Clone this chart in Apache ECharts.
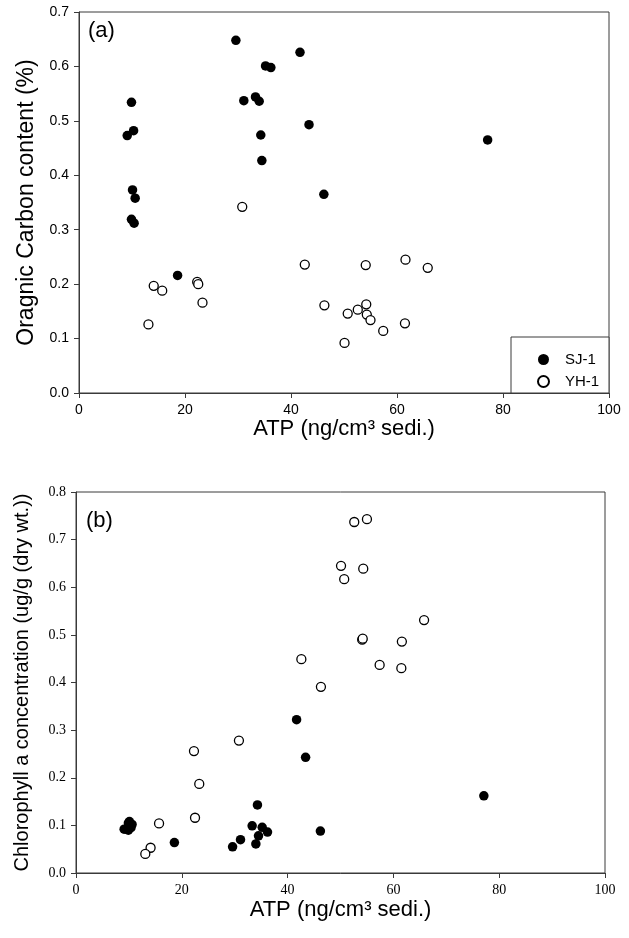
<!DOCTYPE html>
<html>
<head>
<meta charset="utf-8">
<script src="https://cdn.jsdelivr.net/npm/echarts@6/dist/echarts.min.js"></script>
<style>html,body{margin:0;padding:0;background:#fff;}#c{width:629px;height:938px;}</style>
</head>
<body>
<div id="c"></div>
<script>
// ---- Data ----
const seriesNames = ['SJ-1', 'YH-1'];
const xTicks = [0, 20, 40, 60, 80, 100];
// SJ-1 samples
const sj1ATP = [29.6, 41.7, 35.2, 36.2, 9.9, 31.1, 33.3, 34.0, 10.3, 9.1, 34.3, 43.4, 34.5, 46.2, 10.1, 10.6, 9.9, 10.4, 18.6, 77.1];
const sj1OC  = [0.648, 0.626, 0.601, 0.598, 0.534, 0.537, 0.544, 0.536, 0.482, 0.473, 0.474, 0.493, 0.427, 0.365, 0.373, 0.358, 0.319, 0.312, 0.216, 0.465];
const sj1Chl = [0.055, 0.322, 0.096, 0.086, 0.105, 0.070, 0.099, 0.061, 0.100, 0.092, 0.143, 0.243, 0.078, 0.088, 0.108, 0.102, 0.090, 0.095, 0.064, 0.162];
// YH-1 samples
const yh1ATP = [30.8, 14.1, 15.7, 13.1, 22.3, 22.5, 23.3, 42.6, 46.3, 50.7, 50.1, 52.6, 54.1, 54.2, 54.3, 55.0, 61.6, 65.8, 61.5, 57.4];
const yh1OC  = [0.342, 0.197, 0.188, 0.126, 0.204, 0.200, 0.166, 0.236, 0.161, 0.146, 0.092, 0.153, 0.235, 0.163, 0.144, 0.134, 0.245, 0.230, 0.128, 0.114];
const yh1Chl = [0.278, 0.053, 0.104, 0.040, 0.256, 0.116, 0.187, 0.449, 0.391, 0.617, 0.645, 0.737, 0.490, 0.492, 0.639, 0.743, 0.486, 0.531, 0.430, 0.437];

const pair = (xs, ys) => xs.map((x, i) => [x, ys[i]]);

const SANS = '"Liberation Sans", Arial, sans-serif';
const SERIF = '"Liberation Serif", "Times New Roman", serif';
const AX = '#3a3a3a';

function xAxis(grid, font, gap, labSize) {
  return {
    type: 'value', gridIndex: grid, min: 0, max: 100, interval: 20,
    name: 'ATP (ng/cm³ sedi.)', nameLocation: 'middle', nameGap: gap,
    nameTextStyle: { fontFamily: SANS, fontSize: 22, color: '#000' },
    axisLine: { show: true, lineStyle: { color: AX, width: 1 } },
    axisTick: { show: true, inside: false, length: 5, lineStyle: { color: AX } },
    axisLabel: { fontFamily: font, fontSize: labSize, color: '#000', margin: 10 },
    splitLine: { show: false }
  };
}
function yAxis(grid, max, name, font, gap, nameSize, labSize) {
  return {
    type: 'value', gridIndex: grid, min: 0, max: max, interval: 0.1,
    name: name, nameLocation: 'middle', nameGap: gap,
    nameTextStyle: { fontFamily: SANS, fontSize: nameSize, color: '#000' },
    axisLine: { show: true, lineStyle: { color: AX, width: 1 } },
    axisTick: { show: true, inside: false, length: 5, lineStyle: { color: AX } },
    axisLabel: { fontFamily: font, fontSize: labSize, color: '#000', margin: 10,
      formatter: v => v.toFixed(1) },
    splitLine: { show: false }
  };
}

const filled = { color: '#000', borderColor: '#000', borderWidth: 0, opacity: 1 };
const open = { color: '#fff', borderColor: '#000', borderWidth: 1.3, opacity: 1 };

const chart = echarts.init(document.getElementById('c'), null, { renderer: 'canvas' });
chart.setOption({
  animation: false,
  backgroundColor: '#fff',
  grid: [
    { left: 79, top: 12, width: 530, height: 381, show: true, borderColor: AX, borderWidth: 1, backgroundColor: 'transparent' },
    { left: 76, top: 492, width: 529, height: 381, show: true, borderColor: AX, borderWidth: 1, backgroundColor: 'transparent' }
  ],
  xAxis: [ xAxis(0, SANS, 23, 14), xAxis(1, SERIF, 26, 14) ],
  yAxis: [
    yAxis(0, 0.7, 'Oragnic Carbon content (%)', SANS, 40, 23, 14),
    yAxis(1, 0.8, 'Chlorophyll a concentration (ug/g (dry wt.))', SERIF, 44, 20, 14)
  ],
  legend: {
    left: 532, top: 347, orient: 'vertical', itemWidth: 11, itemHeight: 11, itemGap: 7,
    data: seriesNames.map(n => ({ name: n, icon: 'circle' })),
    textStyle: { fontFamily: SANS, fontSize: 15, color: '#000', padding: [0, 0, 0, 11] },
    selectedMode: false
  },
  graphic: [
    { type: 'rect', shape: { x: 511, y: 337, width: 98, height: 56 }, style: { fill: '#fff', stroke: AX, lineWidth: 1 }, z: 0 },
    { type: 'text', left: 88, top: 20, style: { text: '(a)', font: '22px ' + SANS, fill: '#000' } },
    { type: 'text', left: 86, top: 510, style: { text: '(b)', font: '22px ' + SANS, fill: '#000' } }
  ],
  series: [
    { name: seriesNames[0], type: 'scatter', xAxisIndex: 0, yAxisIndex: 0, symbol: 'circle', symbolSize: 9.5, itemStyle: filled, data: pair(sj1ATP, sj1OC), z: 3 },
    { name: seriesNames[1], type: 'scatter', xAxisIndex: 0, yAxisIndex: 0, symbol: 'circle', symbolSize: 9, itemStyle: open, data: pair(yh1ATP, yh1OC), z: 3 },
    { name: seriesNames[0], type: 'scatter', xAxisIndex: 1, yAxisIndex: 1, symbol: 'circle', symbolSize: 9.5, itemStyle: filled, data: pair(sj1ATP, sj1Chl), z: 3 },
    { name: seriesNames[1], type: 'scatter', xAxisIndex: 1, yAxisIndex: 1, symbol: 'circle', symbolSize: 9, itemStyle: open, data: pair(yh1ATP, yh1Chl), z: 3 }
  ]
});
</script>
</body>
</html>
